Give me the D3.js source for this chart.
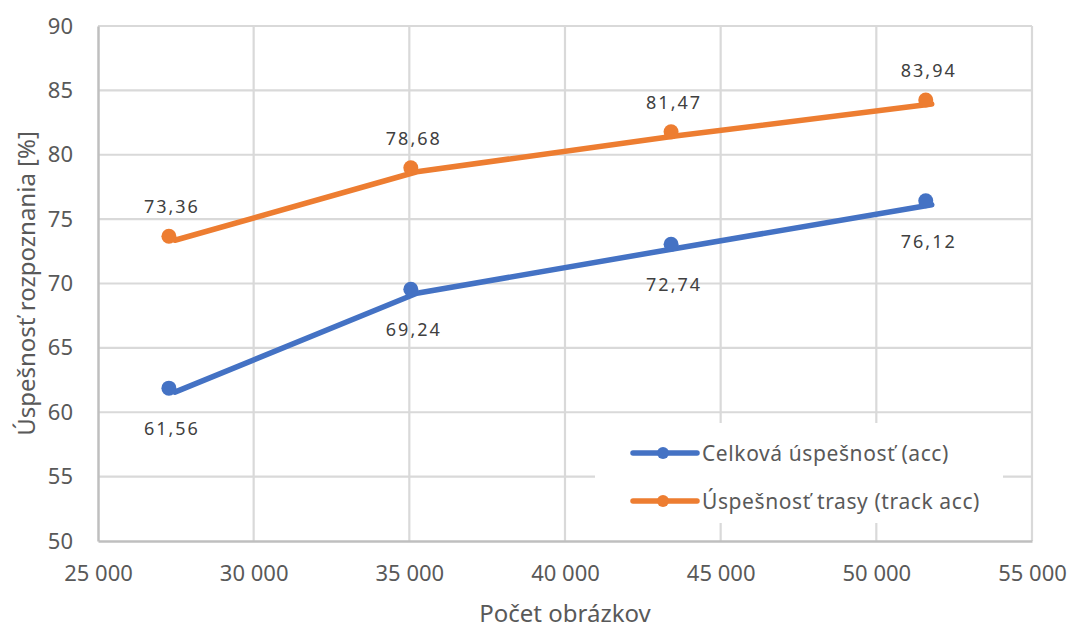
<!DOCTYPE html>
<html>
<head>
<meta charset="utf-8">
<script src="https://cdn.jsdelivr.net/npm/d3@7"></script>
<style>
  html, body { margin: 0; padding: 0; background: #fff; }
  svg { display: block; font-family: "Noto Sans", "Open Sans", sans-serif; }
</style>
</head>
<body>
<svg id="chart" width="1069" height="630"></svg>
<script>
// ---- data ----
const imageCounts = [27470, 35240, 43600, 51780];
const accValues = [61.56, 69.24, 72.74, 76.12];
const trackAccValues = [73.36, 78.68, 81.47, 83.94];
const seriesNames = ["Celková úspešnosť (acc)", "Úspešnosť trasy (track acc)"];
const xTicks = [25000, 30000, 35000, 40000, 45000, 50000, 55000];
const yTicks = [50, 55, 60, 65, 70, 75, 80, 85, 90];
const xTitle = "Počet obrázkov";
const yTitle = "Úspešnosť rozpoznania [%]";

const colors = ["#4472C4", "#ED7D31"];
const svg = d3.select("#chart");
const m = { left: 98, right: 1032, top: 26, bottom: 541 };

const x = d3.scaleLinear().domain([25000, 55000]).range([m.left, m.right]);
const y = d3.scaleLinear().domain([50, 90]).range([m.bottom, m.top]);
const fmt = v => d3.format(",")(v).replace(/,/g, " ");
const fmtVal = v => v.toFixed(2).replace(".", ",");

// gridlines
svg.append("g").selectAll("line").data(yTicks.slice(1)).join("line")
  .attr("x1", m.left).attr("x2", m.right)
  .attr("y1", d => y(d)).attr("y2", d => y(d))
  .attr("stroke", "#d9d9d9").attr("stroke-width", 2.2);
svg.append("g").selectAll("line").data(xTicks.slice(1)).join("line")
  .attr("y1", m.top).attr("y2", m.bottom)
  .attr("x1", d => x(d)).attr("x2", d => x(d))
  .attr("stroke", "#d9d9d9").attr("stroke-width", 2.2);

// axes
const yAxis = svg.append("g").attr("transform", `translate(${m.left},0)`)
  .call(d3.axisLeft(y).tickValues(yTicks).tickSize(0).tickPadding(25));
const xAxis = svg.append("g").attr("transform", `translate(0,${m.bottom})`)
  .call(d3.axisBottom(x).tickValues(xTicks).tickFormat(fmt).tickSize(0).tickPadding(24));
[yAxis, xAxis].forEach(a => {
  a.select(".domain").attr("stroke", "#bfbfbf").attr("stroke-width", 2.5);
  a.selectAll("text").attr("fill", "#595959").style("font-size", "22px")
    .style("font-family", "'Noto Sans', sans-serif");
});

// axis titles
svg.append("text").attr("x", 565).attr("y", 622)
  .attr("text-anchor", "middle").attr("fill", "#595959").style("font-size", "24px")
  .text(xTitle);
svg.append("text").attr("transform", `translate(35,${(m.top + m.bottom) / 2}) rotate(-90)`)
  .attr("text-anchor", "middle").attr("fill", "#595959").style("font-size", "24px")
  .text(yTitle);

// series
const series = [accValues, trackAccValues];
const line = d3.line().x(d => x(d[0])).y(d => y(d[1]));
const markerDx = -6, markerDy = -4;
series.forEach((vals, i) => {
  const pts = imageCounts.map((c, j) => [c, vals[j]]);
  svg.append("path").datum(pts).attr("d", line)
    .attr("fill", "none").attr("stroke", colors[i]).attr("stroke-width", 5.5)
    .attr("stroke-linecap", "round").attr("stroke-linejoin", "round");
  svg.append("g").selectAll("circle").data(pts).join("circle")
    .attr("cx", d => x(d[0]) + markerDx).attr("cy", d => y(d[1]) + markerDy)
    .attr("r", 7.5).attr("fill", colors[i]);
  svg.append("g").selectAll("text").data(pts).join("text")
    .attr("x", d => x(d[0]) - 3)
    .attr("y", d => i === 0 ? y(d[1]) + 43 : y(d[1]) - 27)
    .attr("text-anchor", "middle").attr("fill", "#404040")
    .style("font-size", "18px").style("letter-spacing", "2px")
    .text(d => fmtVal(d[1]));
});

// legend
const lg = svg.append("g");
lg.append("rect").attr("x", 595).attr("y", 423).attr("width", 408).attr("height", 100).attr("fill", "#fff");
seriesNames.forEach((name, i) => {
  const ly = 453 + i * 48;
  lg.append("line").attr("x1", 633).attr("x2", 697).attr("y1", ly).attr("y2", ly)
    .attr("stroke", colors[i]).attr("stroke-width", 5.5).attr("stroke-linecap", "round");
  lg.append("circle").attr("cx", 663).attr("cy", ly).attr("r", 6).attr("fill", colors[i]);
  lg.append("text").attr("x", 702).attr("y", ly + 8).attr("fill", "#595959")
    .style("font-size", "21px").style("letter-spacing", "0.6px").text(name);
});
</script>
</body>
</html>
